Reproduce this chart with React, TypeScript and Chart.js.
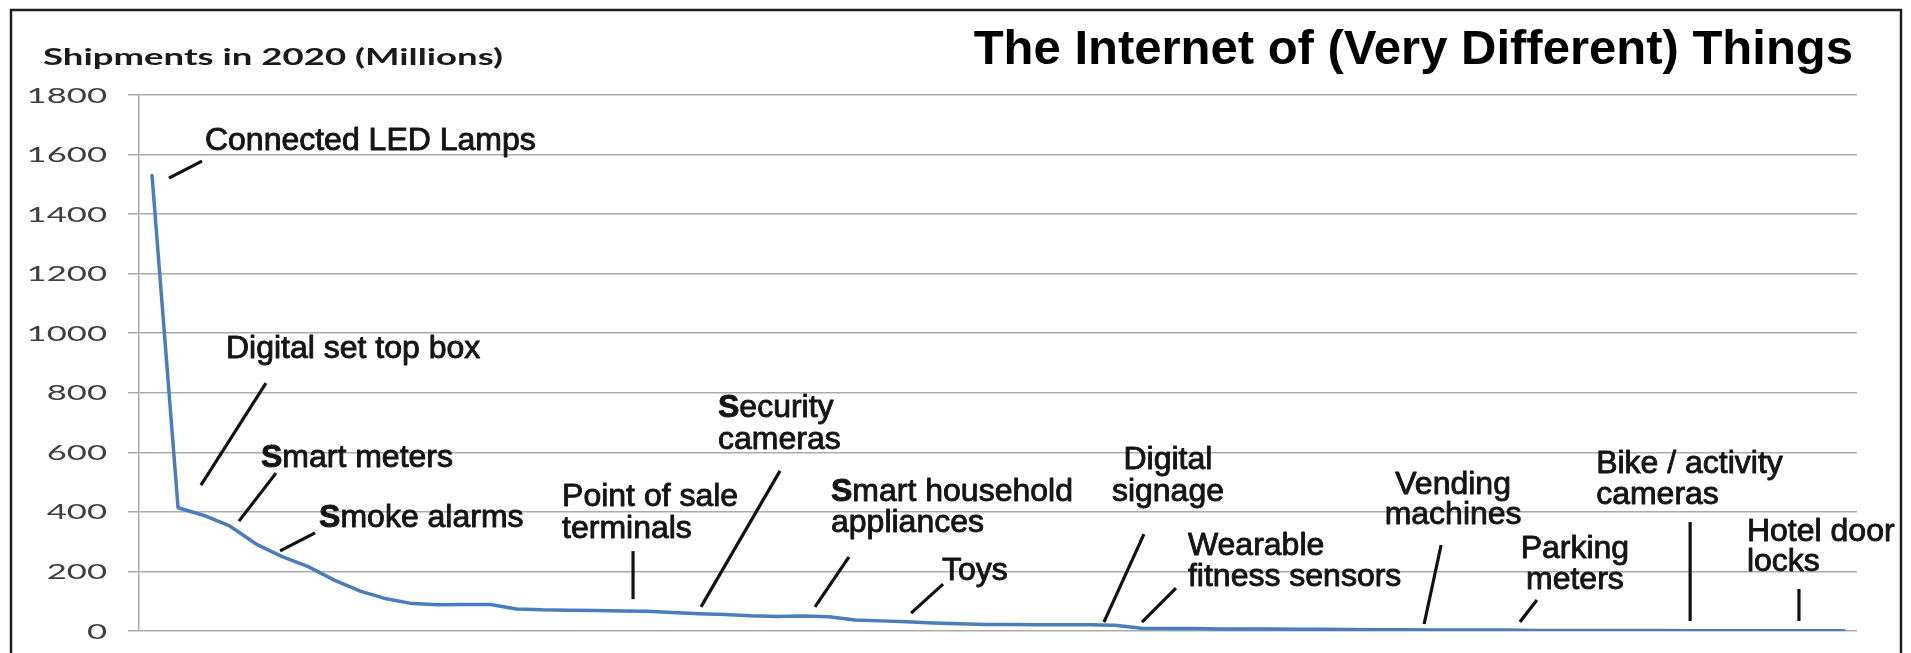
import React, { useEffect, useRef } from 'react';
import { Chart, registerables } from 'chart.js';

Chart.register(...registerables);

// ---- data ----
const categories: string[] = [
  'Connected LED lamps', 'Digital set top boxes', 'Device 03', 'Smart meters', 'Device 05',
  'Smoke alarms', 'Device 07', 'Device 08', 'Device 09', 'Device 10',
  'Device 11', 'Device 12', 'Device 13', 'Device 14', 'Device 15',
  'Device 16', 'Device 17', 'Device 18', 'Point of sale terminals', 'Device 20',
  'Device 21', 'Security cameras', 'Device 23', 'Device 24', 'Device 25',
  'Smart household appliances', 'Device 27', 'Device 28', 'Device 29', 'Toys',
  'Device 31', 'Device 32', 'Device 33', 'Device 34', 'Device 35',
  'Device 36', 'Device 37', 'Digital signage', 'Wearable fitness sensors', 'Device 40',
  'Device 41', 'Device 42', 'Device 43', 'Device 44', 'Device 45',
  'Device 46', 'Device 47', 'Device 48', 'Device 49', 'Vending machines',
  'Device 51', 'Device 52', 'Device 53', 'Parking meters', 'Device 55',
  'Device 56', 'Device 57', 'Device 58', 'Device 59', 'Bike / activity cameras',
  'Device 61', 'Device 62', 'Device 63', 'Hotel door locks', 'Device 65',
  'Device 66',
];

const shipments: number[] = [
  1530, 414, 388, 352, 292, 250, 216, 171, 134, 108,
  92, 88, 89, 89, 74, 71, 70, 69, 67, 66,
  62, 58, 55, 51, 49, 50, 48, 37, 34, 31,
  27, 24, 22, 22, 21, 21, 21, 19, 9, 8,
  8, 7, 7, 7, 6, 6, 5, 4, 4, 3,
  3, 3, 3, 2, 2, 2, 2, 2, 2, 1,
  1, 1, 1, 1, 1, 1,
];

const yTickValues: number[] = [0, 200, 400, 600, 800, 1000, 1200, 1400, 1600, 1800];
const yTickLabels: string[] = ['0', '200', '400', '600', '800', '1000', '1200', '1400', '1600', '1800'];

const chartTitle = 'The Internet of (Very Different) Things';
const yAxisTitle = 'Shipments in 2020 (Millions)';

// annotation anchors are in data space (category index, value); offsets in px
type Ann = {
  lines: string[];
  boldS?: boolean;
  idx: number;
  value: number;
  ptr: [number, number];
  lbl: [number, number];
  align: 'left' | 'center';
  lh: number;
};

const annotations: Ann[] = [
  { lines: ['Connected LED Lamps'], idx: 0.65, value: 1521, ptr: [33, -17], lbl: [36, -28], align: 'left', lh: 32 },
  { lines: ['Digital set top box'], idx: 1.88, value: 490, ptr: [65, -102], lbl: [25, -127], align: 'left', lh: 32 },
  { lines: ['Smart meters'], boldS: true, idx: 3.34, value: 369, ptr: [37, -48], lbl: [22, -54], align: 'left', lh: 32 },
  { lines: ['Smoke alarms'], boldS: true, idx: 4.92, value: 269, ptr: [35, -18], lbl: [39, -24], align: 'left', lh: 32 },
  { lines: ['Point of sale', 'terminals'], idx: 18.48, value: 107, ptr: [0, -48], lbl: [-71, -93], align: 'left', lh: 32 },
  { lines: ['Security', 'cameras'], boldS: true, idx: 21.09, value: 81, ptr: [79, -136], lbl: [17, -190], align: 'left', lh: 32 },
  { lines: ['Smart household', 'appliances'], boldS: true, idx: 25.47, value: 81, ptr: [34, -50], lbl: [16, -106], align: 'left', lh: 31 },
  { lines: ['Toys'], idx: 29.16, value: 60, ptr: [32, -29], lbl: [31, -33], align: 'left', lh: 32 },
  { lines: ['Digital', 'signage'], idx: 36.57, value: 30, ptr: [40, -88], lbl: [64, -153], align: 'center', lh: 32 },
  { lines: ['Wearable', 'fitness sensors'], idx: 38.03, value: 30, ptr: [34, -34], lbl: [46, -67], align: 'left', lh: 31 },
  { lines: ['Vending', 'machines'], idx: 48.87, value: 23.5, ptr: [17, -79], lbl: [29, -130], align: 'center', lh: 30 },
  { lines: ['Parking', 'meters'], idx: 52.55, value: 30, ptr: [17, -22], lbl: [55, -64], align: 'center', lh: 31 },
  { lines: ['Bike / activity', 'cameras'], idx: 59.09, value: 33.6, ptr: [0, -99], lbl: [-94, -148], align: 'left', lh: 31 },
  { lines: ['Hotel door', 'locks'], idx: 63.27, value: 33.6, ptr: [0, -32], lbl: [-52, -80], align: 'left', lh: 30 },
];

const ANN_FONT = '32px "Liberation Sans", Arial, sans-serif';
const ANN_FONT_BOLD = 'bold 32px "Liberation Sans", Arial, sans-serif';
const ANN_COLOR = '#141414';

function heavyText(ctx: CanvasRenderingContext2D, text: string, x: number, y: number) {
  ctx.fillText(text, x, y);
  ctx.strokeText(text, x, y);
}

const overlayPlugin = {
  id: 'overlay',
  afterDraw(chart: any) {
    const ctx: CanvasRenderingContext2D = chart.ctx;
    const xs = chart.scales.x;
    const ys = chart.scales.y;
    ctx.save();

    // frame
    ctx.strokeStyle = '#1e1e1e';
    ctx.lineWidth = 2.5;
    ctx.strokeRect(11, 10, 1890, 720);

    // title
    ctx.fillStyle = '#000';
    ctx.font = 'bold 49px "Liberation Sans", Arial, sans-serif';
    ctx.textAlign = 'right';
    ctx.textBaseline = 'alphabetic';
    ctx.fillText(chartTitle, 1853, 64);

    // y axis title (stretched, as in the reference)
    ctx.font = 'bold 22px Lato, "Open Sans", sans-serif';
    const tw = ctx.measureText(yAxisTitle).width;
    ctx.save();
    ctx.translate(43, 65);
    ctx.scale(460 / tw, 1);
    ctx.textAlign = 'left';
    ctx.fillStyle = '#1a1a1a';
    ctx.fillText(yAxisTitle, 0, 0);
    ctx.restore();

    // y tick labels (stretched)
    ctx.font = '21px Lato, "Open Sans", sans-serif';
    ctx.fillStyle = '#3f3f3f';
    yTickValues.forEach((v, k) => {
      const y = ys.getPixelForValue(v);
      ctx.save();
      ctx.translate(ys.right - 32, y + 7.5);
      ctx.scale(1.65, 1);
      ctx.textAlign = 'right';
      ctx.fillText(yTickLabels[k], 0, 0);
      ctx.restore();
    });

    // annotations
    ctx.textAlign = 'left';
    annotations.forEach((a) => {
      const ax = xs.getPixelForValue(a.idx);
      const ay = ys.getPixelForValue(a.value);
      ctx.beginPath();
      ctx.moveTo(ax, ay);
      ctx.lineTo(ax + a.ptr[0], ay + a.ptr[1]);
      ctx.lineWidth = 3.2;
      ctx.strokeStyle = '#111';
      ctx.lineCap = 'butt';
      ctx.stroke();

      ctx.fillStyle = ANN_COLOR;
      ctx.strokeStyle = ANN_COLOR;
      ctx.lineWidth = 0.9;
      ctx.lineJoin = 'round';
      a.lines.forEach((line, li) => {
        const bx = ax + a.lbl[0];
        const by = ay + a.lbl[1] + li * a.lh;
        if (a.boldS && li === 0) {
          ctx.font = ANN_FONT_BOLD;
          const w1 = ctx.measureText('S').width;
          ctx.font = ANN_FONT;
          const rest = line.slice(1);
          const w2 = ctx.measureText(rest).width;
          const sx = a.align === 'center' ? bx - (w1 + w2) / 2 : bx;
          ctx.font = ANN_FONT_BOLD;
          heavyText(ctx, 'S', sx, by);
          ctx.font = ANN_FONT;
          heavyText(ctx, rest, sx + w1, by);
        } else {
          ctx.font = ANN_FONT;
          const w = ctx.measureText(line).width;
          const sx = a.align === 'center' ? bx - w / 2 : bx;
          heavyText(ctx, line, sx, by);
        }
      });
    });

    ctx.restore();
  },
};

export default function App() {
  const canvasRef = useRef<HTMLCanvasElement | null>(null);

  useEffect(() => {
    if (!canvasRef.current) return;
    const chart = new Chart(canvasRef.current, {
      type: 'line',
      data: {
        labels: categories,
        datasets: [
          {
            label: 'Shipments in 2020 (Millions)',
            data: shipments,
            borderColor: '#4a7dbb',
            backgroundColor: '#4a7dbb',
            borderWidth: 3.5,
            pointRadius: 0,
            tension: 0,
            borderJoinStyle: 'round',
            borderCapStyle: 'round',
            fill: false,
          },
        ],
      },
      options: {
        responsive: false,
        animation: false,
        layout: { padding: { left: 0, top: 95, right: 54, bottom: 22 } },
        plugins: {
          legend: { display: false },
          tooltip: { enabled: false },
          title: { display: false },
        },
        scales: {
          x: {
            type: 'category',
            offset: true,
            display: false,
          },
          y: {
            min: 0,
            max: 1800,
            ticks: { stepSize: 200, display: false },
            grid: { color: '#ababab', lineWidth: 1.5, tickLength: 11, drawTicks: true },
            border: { display: true, color: '#ababab', width: 1.5 },
            afterFit: (scale: any) => {
              scale.width = 139;
            },
          },
        },
      },
      plugins: [overlayPlugin],
    });
    return () => chart.destroy();
  }, []);

  return (
    <div style={{ position: 'fixed', left: 0, top: 0, width: 1911, height: 653, background: '#fff', overflow: 'hidden' }}>
      <canvas ref={canvasRef} width={1911} height={653} style={{ display: 'block' }} />
    </div>
  );
}
